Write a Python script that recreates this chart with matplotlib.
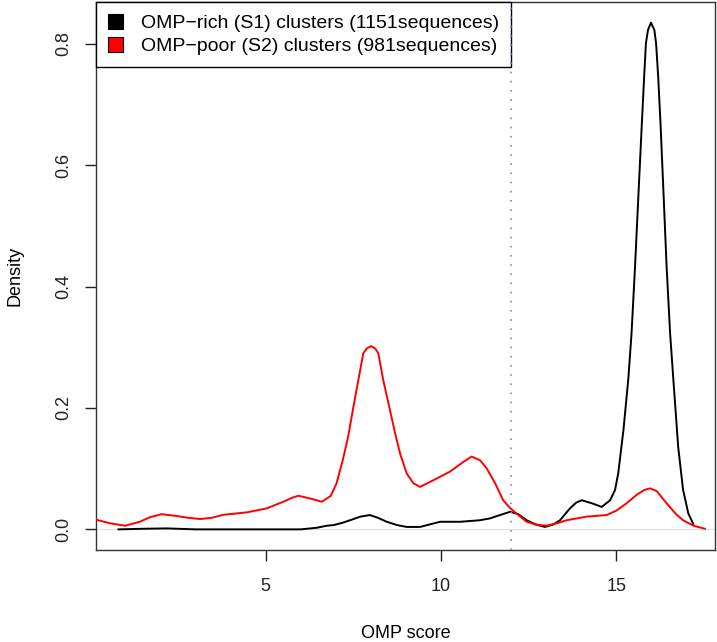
import matplotlib
matplotlib.use("Agg")
import matplotlib.pyplot as plt
from matplotlib.patches import Patch

plt.rcParams['font.family'] = ['Liberation Sans', 'DejaVu Sans']

# Densities
s1_x = [0.80, 1.5, 2.18, 3.0, 4.0, 5.0, 6.0, 6.45, 6.74, 6.93, 7.2, 7.4, 7.7, 7.97,
        8.2, 8.45, 8.75, 9.02, 9.4, 9.97, 10.54, 11.1, 11.39, 11.68, 11.97, 12.2,
        12.44, 12.7, 12.96, 13.2, 13.39, 13.68, 13.85, 14.01, 14.3, 14.58, 14.82,
        14.96, 15.05, 15.2, 15.34, 15.43, 15.53, 15.62, 15.72, 15.79, 15.84,
        15.90, 15.985, 16.08, 16.13, 16.19, 16.26, 16.35, 16.43, 16.53, 16.62,
        16.76, 16.9, 17.05, 17.19]
s1_y = [0.000, 0.001, 0.0016, 0.000, 0.000, 0.000, 0.000, 0.0026, 0.006, 0.007,
        0.011, 0.015, 0.021, 0.0236, 0.019, 0.0125, 0.007, 0.004, 0.004, 0.0125,
        0.0125, 0.015, 0.018, 0.0236, 0.029, 0.025, 0.015, 0.008, 0.004, 0.008, 0.015,
        0.035, 0.044, 0.048, 0.043, 0.037, 0.048, 0.065, 0.092, 0.164, 0.249, 0.323,
        0.433, 0.543, 0.664, 0.746, 0.801, 0.823, 0.835, 0.823, 0.801, 0.746,
        0.664, 0.543, 0.433, 0.323, 0.249, 0.136, 0.065, 0.026, 0.009]

s2_x = [0.13, 0.56, 0.99, 1.41, 1.7, 2.03, 2.46, 2.8, 3.13, 3.45, 3.79, 4.46, 5.03,
        5.5, 5.75, 5.93, 6.26, 6.6, 6.85, 7.02, 7.2, 7.35, 7.50, 7.64, 7.78, 7.88,
        8.0, 8.12, 8.21, 8.35, 8.54, 8.71, 8.83, 9.02, 9.21, 9.40, 9.78, 10.25,
        10.63, 10.87, 11.11, 11.30, 11.54, 11.77, 11.97, 12.2, 12.44, 12.7, 13.0,
        13.3, 13.58, 14.15, 14.72, 15.0, 15.29, 15.6, 15.8, 15.96, 16.15, 16.43,
        16.7, 16.9, 17.2, 17.52]
s2_y = [0.0165, 0.010, 0.006, 0.0125, 0.020, 0.025, 0.022, 0.019, 0.017, 0.019,
        0.024, 0.028, 0.0346, 0.0455, 0.052, 0.0554, 0.051, 0.0455, 0.055, 0.076,
        0.115, 0.153, 0.202, 0.246, 0.290, 0.298, 0.302, 0.298, 0.290, 0.246, 0.197,
        0.153, 0.125, 0.092, 0.076, 0.070, 0.081, 0.095, 0.111, 0.120, 0.114, 0.1005,
        0.076, 0.048, 0.035, 0.0236, 0.0125, 0.008, 0.006, 0.010, 0.015, 0.021,
        0.0236, 0.031, 0.043, 0.058, 0.065, 0.0676, 0.063, 0.043, 0.025, 0.015,
        0.006, 0.001]

cutoff = 12
labels = ["OMP\u2212rich (S1) clusters (1151sequences)",
          "OMP\u2212poor (S2) clusters (981sequences)"]
colors = ["black", "red"]

fig = plt.figure(figsize=(7.17, 6.42), dpi=100)
ax = fig.add_axes([96/717, 1 - 550/642, (715 - 96)/717, (550 - 2)/642])

ax.axhline(0, color="#dddddd", lw=0.8, zorder=1)
ax.plot(s1_x, s1_y, color=colors[0], lw=1.4, zorder=3, solid_joinstyle="round")
ax.plot(s2_x, s2_y, color=colors[1], lw=1.4, zorder=3, solid_joinstyle="round")
ax.axvline(cutoff, color="#7a7aff", lw=1.2, ls=(0, (1, 4.5)), zorder=6)

ax.set_xlim(0.16, 17.81)
ax.set_ylim(-0.034, 0.869)
ax.set_xticks([5, 10, 15])
ax.set_yticks([0.0, 0.2, 0.4, 0.6, 0.8])
ax.set_yticklabels(["0.0", "0.2", "0.4", "0.6", "0.8"], rotation=90, va="center")
ax.tick_params(direction="out", length=8, width=1, labelsize=13, pad=9, colors="#222222")
ax.tick_params(axis="x", pad=12)
for s in ax.spines.values():
    s.set_linewidth(1)
    s.set_color("#333333")

ax.set_xlabel("OMP score", fontsize=13, labelpad=22)
ax.set_ylabel("Density", fontsize=13, labelpad=23)

handles = [Patch(facecolor=c, edgecolor="black", lw=0.8) for c in colors]
leg = ax.legend(handles, labels, loc="upper left", borderaxespad=0, fontsize=14,
                fancybox=False, edgecolor="black", framealpha=1,
                handlelength=0.8, handleheight=0.8, handletextpad=0.9,
                labelspacing=0.25, borderpad=0.6)
leg.get_frame().set_linewidth(1)

fig.savefig("out.png", dpi=100)
